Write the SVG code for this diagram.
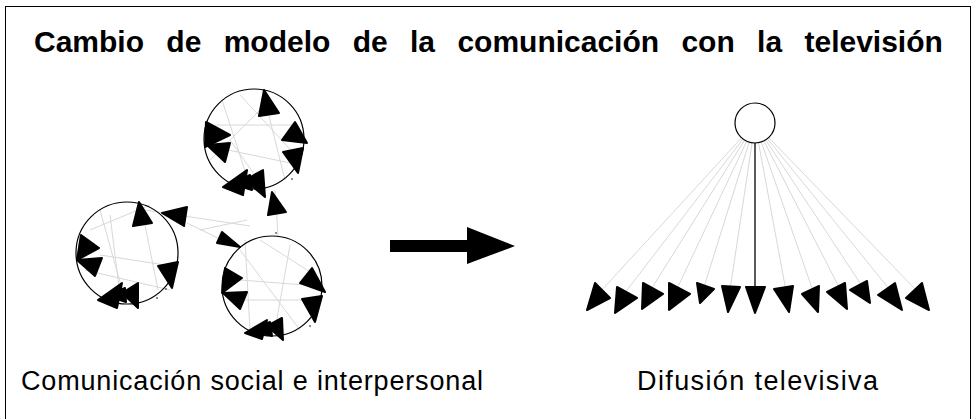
<svg xmlns="http://www.w3.org/2000/svg" width="975" height="419" viewBox="0 0 975 419">
<style>
.title{font-family:"Liberation Sans",Arial,sans-serif;font-weight:bold;font-size:30px;word-spacing:14px;fill:#000}
.lbl{font-family:"Liberation Sans",Arial,sans-serif;font-size:27px;fill:#000}
.grp{fill:none;stroke:#000;stroke-width:1.2}
.chord{stroke:#d8d8d8;stroke-width:1;fill:none}
.tri{fill:#000;stroke:#000;stroke-width:2;stroke-linejoin:round}
.dot{fill:#000}
</style>
<rect x="5.5" y="6.5" width="965" height="420" fill="#fff" stroke="#000" stroke-width="1"/>
<text class="title" x="34" y="52">Cambio de modelo de la comunicación con la televisión</text>

<g id="connectors">
  <!-- circle A chords -->
  <line class="chord" x1="222" y1="100" x2="248" y2="180"/>
  <line class="chord" x1="240" y1="95" x2="300" y2="160"/>
  <line class="chord" x1="268" y1="112" x2="285" y2="180"/>
  <line class="chord" x1="215" y1="125" x2="295" y2="125"/>
  <line class="chord" x1="228" y1="150" x2="300" y2="165"/>
  <line class="chord" x1="210" y1="160" x2="270" y2="100"/>
  <line class="chord" x1="230" y1="140" x2="262" y2="185"/>
  <!-- circle B chords -->
  <line class="chord" x1="100" y1="210" x2="125" y2="300"/>
  <line class="chord" x1="90" y1="230" x2="150" y2="205"/>
  <line class="chord" x1="145" y1="225" x2="158" y2="290"/>
  <line class="chord" x1="85" y1="270" x2="170" y2="290"/>
  <line class="chord" x1="100" y1="255" x2="165" y2="265"/>
  <line class="chord" x1="110" y1="215" x2="120" y2="295"/>
  <!-- circle C chords -->
  <line class="chord" x1="240" y1="250" x2="300" y2="330"/>
  <line class="chord" x1="245" y1="240" x2="250" y2="330"/>
  <line class="chord" x1="290" y1="245" x2="275" y2="330"/>
  <line class="chord" x1="235" y1="300" x2="310" y2="300"/>
  <line class="chord" x1="240" y1="280" x2="305" y2="285"/>
  <line class="chord" x1="260" y1="240" x2="315" y2="275"/>
  <!-- inter-group -->
  <line class="chord" x1="145" y1="210" x2="250" y2="226"/>
  <line class="chord" x1="187" y1="223" x2="222" y2="240"/>
  <line class="chord" x1="200" y1="230" x2="247" y2="220"/>
  <line class="chord" x1="275" y1="190" x2="278" y2="236"/>
  <!-- right fan -->
  <line class="chord" x1="741.6" y1="137.8" x2="600" y2="292"/>
  <line class="chord" x1="743" y1="139" x2="624" y2="294"/>
  <line class="chord" x1="744.6" y1="140.1" x2="650" y2="291"/>
  <line class="chord" x1="746.7" y1="141.2" x2="676" y2="291"/>
  <line class="chord" x1="749.2" y1="142.1" x2="704" y2="287"/>
  <line class="chord" x1="752.1" y1="142.8" x2="730" y2="290"/>
  <line class="chord" x1="758.5" y1="142.7" x2="786" y2="291"/>
  <line class="chord" x1="761.3" y1="142" x2="813" y2="291"/>
  <line class="chord" x1="763.9" y1="140.9" x2="840" y2="289"/>
  <line class="chord" x1="765.7" y1="139.9" x2="862" y2="286"/>
  <line class="chord" x1="767.4" y1="138.7" x2="890" y2="290"/>
  <line class="chord" x1="768.7" y1="137.6" x2="917" y2="291"/>
  <line x1="755" y1="143" x2="755" y2="292" stroke="#000" stroke-width="1.3"/>
</g>

<g id="group-a">
  <circle class="grp" cx="254" cy="139" r="50"/>
  <polygon class="tri" points="264,90 279,113 259,116"/>
  <polygon class="tri" points="206,122 230,135 205,147"/>
  <polygon class="tri" points="207,145 230,143 225,162"/>
  <polygon class="tri" points="282,140 295,122 307,143"/>
  <polygon class="tri" points="283,152 303,148 298,173"/>
  <polygon class="tri" points="223,187 247,170 243,195"/>
  <polygon class="tri" points="245,180 263,170 265,197"/>
  <polygon class="tri" points="233,184 250,175 252,190"/>
  <circle class="dot" cx="292" cy="179" r="0.8"/>
</g>

<g id="group-b">
  <circle class="grp" cx="127" cy="253" r="51"/>
  <polygon class="tri" points="139,202 152,223 133,226"/>
  <polygon class="tri" points="81,235 99,248 77,260"/>
  <polygon class="tri" points="77,260 102,258 95,276"/>
  <polygon class="tri" points="158,266 178,262 172,288"/>
  <polygon class="tri" points="98,300 122,283 117,308"/>
  <polygon class="tri" points="122,293 138,283 138,308"/>
  <polygon class="tri" points="108,296 125,288 126,302"/>
  <circle class="dot" cx="166" cy="289" r="0.8"/>
  <circle class="dot" cx="157" cy="298" r="0.8"/>
</g>

<g id="group-c">
  <circle class="grp" cx="272" cy="286" r="50"/>
  <polygon class="tri" points="225,268 242,278 222,293"/>
  <polygon class="tri" points="223,293 247,292 240,309"/>
  <polygon class="tri" points="300,283 312,268 325,292"/>
  <polygon class="tri" points="302,299 322,296 315,322"/>
  <polygon class="tri" points="245,333 267,320 262,339"/>
  <polygon class="tri" points="267,326 282,318 283,340"/>
  <polygon class="tri" points="252,330 270,322 272,336"/>
  <circle class="dot" cx="276" cy="233" r="0.8"/>
  <circle class="dot" cx="310" cy="326" r="0.8"/>
</g>

<g id="loose-nodes">
  <polygon class="tri" points="162,213 187,207 184,226"/>
  <polygon class="tri" points="217,243 222,232 240,247"/>
  <polygon class="tri" points="272,192 286,212 268,215"/>
</g>

<g id="big-arrow">
  <rect x="390" y="240" width="77" height="12" fill="#000"/>
  <polygon points="467,227 515,246 467,264" fill="#000"/>
</g>

<g id="broadcaster">
  <circle cx="755" cy="123" r="20" fill="#fff" stroke="#000" stroke-width="1.2"/>
</g>

<g id="receivers">
  <polygon class="tri" points="595,283 610,298 587,310"/>
  <polygon class="tri" points="617,287 637,298 615,313"/>
  <polygon class="tri" points="643,283 663,294 642,309"/>
  <polygon class="tri" points="669,283 690,294 669,310"/>
  <polygon class="tri" points="697,283 714,289 700,303"/>
  <polygon class="tri" points="722,286 740,287 728,312"/>
  <polygon class="tri" points="746,287 765,287 755,313"/>
  <polygon class="tri" points="774,289 793,286 789,312"/>
  <polygon class="tri" points="802,294 819,286 818,312"/>
  <polygon class="tri" points="827,292 845,283 847,309"/>
  <polygon class="tri" points="850,290 867,281 870,303"/>
  <polygon class="tri" points="878,295 895,283 902,310"/>
  <polygon class="tri" points="906,298 922,283 929,310"/>
</g>

<text class="lbl" x="21" y="390" textLength="462" lengthAdjust="spacing">Comunicación social e interpersonal</text>
<text class="lbl" x="637" y="390" textLength="241" lengthAdjust="spacing">Difusión televisiva</text>
</svg>
